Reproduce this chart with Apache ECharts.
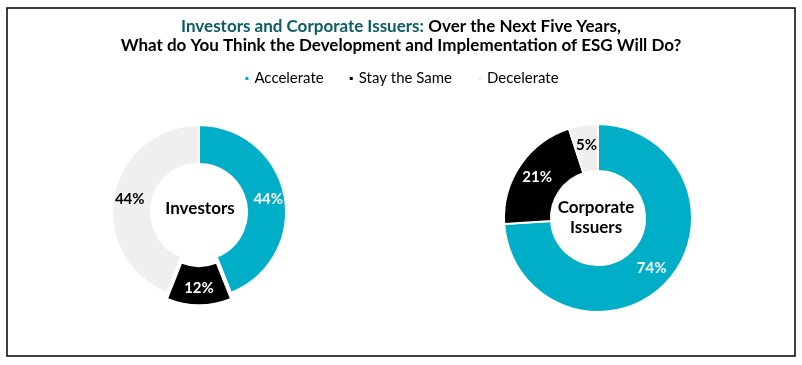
<!DOCTYPE html>
<html>
<head>
<meta charset="utf-8">
<script src="https://cdn.jsdelivr.net/npm/echarts@6/dist/echarts.min.js"></script>
<style>
html,body{margin:0;padding:0;background:#fff;}
#chart{width:802px;height:365px;}
</style>
</head>
<body>
<div id="chart"></div>
<script>
var categories = ['Accelerate', 'Stay the Same', 'Decelerate'];
var investorsValues = [44, 12, 44];
var issuersValues = [74, 21, 5];
var groupNames = ['Investors', 'Corporate\nIssuers'];
var colors = ['#00AEC7', '#000000', '#EFEFEF'];
var labelColors = ['#ffffff', '#ffffff', '#000000'];
var FONT = 'Lato';

function makeData(values, explodeIdx) {
  return values.map(function (v, i) {
    return {
      name: categories[i],
      value: v,
      selected: i === explodeIdx,
      itemStyle: { color: colors[i] },
      label: { color: labelColors[i] }
    };
  });
}

var chart = echarts.init(document.getElementById('chart'));
chart.setOption({
  animation: false,
  textStyle: { fontFamily: FONT },
  title: {
    left: 'center',
    top: 12,
    text: '{a|Investors and Corporate Issuers:} {b|Over the Next Five Years,}\n{b|What do You Think the Development and Implementation of ESG Will Do?}',
    textStyle: {
      rich: {
        a: { fontFamily: FONT, fontWeight: 'bold', fontSize: 17, color: '#0B5C64', lineHeight: 19 },
        b: { fontFamily: FONT, fontWeight: 'bold', fontSize: 17, color: '#000000', lineHeight: 19 }
      }
    }
  },
  legend: {
    top: 66,
    left: 'center',
    icon: 'rect',
    itemWidth: 5,
    itemHeight: 5,
    itemGap: 24,
    selectedMode: false,
    data: categories,
    textStyle: { fontFamily: FONT, fontSize: 15, color: '#000' }
  },
  graphic: [
    { type: 'rect', shape: { x: 7, y: 8, width: 788, height: 348 }, style: { fill: 'none', stroke: '#000', lineWidth: 1.5 }, silent: true },
    { type: 'text', style: { text: groupNames[0], x: 200, y: 209, align: 'center', verticalAlign: 'middle', font: 'bold 17px ' + FONT, fill: '#000' }, silent: true },
    { type: 'text', style: { text: groupNames[1], x: 596, y: 218, align: 'center', verticalAlign: 'middle', font: 'bold 17px ' + FONT, fill: '#000', lineHeight: 20 }, silent: true }
  ],
  series: [
    {
      type: 'pie',
      center: [199, 212],
      radius: [48, 87],
      startAngle: 90,
      clockwise: true,
      selectedMode: 'single',
      selectedOffset: 6,
      avoidLabelOverlap: false,
      itemStyle: { borderColor: '#fff', borderWidth: 2 },
      label: { show: true, position: 'inside', formatter: '{c}%', fontFamily: FONT, fontWeight: 'bold', fontSize: 15 },
      labelLine: { show: false },
      emphasis: { disabled: true },
      data: makeData(investorsValues, 1)
    },
    {
      type: 'pie',
      center: [598, 218],
      radius: [47, 94],
      startAngle: 90,
      clockwise: true,
      avoidLabelOverlap: false,
      itemStyle: { borderColor: '#fff', borderWidth: 2 },
      label: { show: true, position: 'inside', formatter: '{c}%', fontFamily: FONT, fontWeight: 'bold', fontSize: 15 },
      labelLine: { show: false },
      emphasis: { disabled: true },
      data: makeData(issuersValues, -1)
    }
  ]
});
</script>
</body>
</html>
